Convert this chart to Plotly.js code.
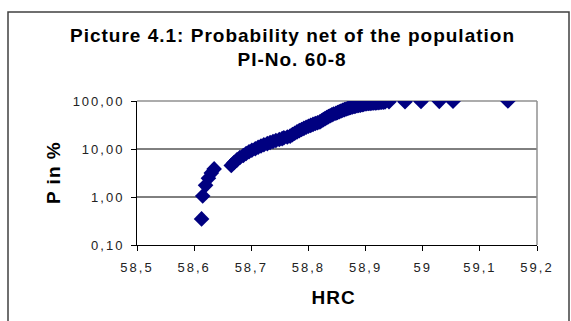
<!DOCTYPE html>
<html>
<head>
<meta charset="utf-8">
<script src="https://cdn.plot.ly/plotly-3.0.1.min.js"></script>
<style>
  html, body { margin: 0; padding: 0; background: #ffffff; }
  #chart { width: 571px; height: 321px; }
  #chart .xtick text, #chart .ytick text { letter-spacing: 2px; }
  #chart .annotation-text { letter-spacing: 1px; }
</style>
</head>
<body>
<div id="chart"></div>
<script>
const hrc = [
  58.613, 58.615, 58.620, 58.625, 58.630, 58.635,
  58.665, 58.670, 58.675, 58.680, 58.686, 58.691, 58.696,
  58.701, 58.707, 58.712, 58.717, 58.722, 58.728, 58.733, 58.738, 58.743, 58.749, 58.754, 58.757, 58.763, 58.768,
  58.772, 58.776, 58.780, 58.784, 58.788, 58.792, 58.796, 58.800, 58.804, 58.808, 58.812, 58.816, 58.820,
  58.823, 58.826, 58.829, 58.832, 58.835, 58.838, 58.841, 58.844, 58.848, 58.851, 58.854, 58.857, 58.860, 58.863, 58.866, 58.869, 58.872,
  58.874, 58.877, 58.880, 58.882, 58.885, 58.888, 58.891, 58.894, 58.896, 58.899,
  58.902, 58.905, 58.908, 58.911, 58.914, 58.917, 58.919, 58.922, 58.925, 58.928, 58.931, 58.934,
  58.941, 58.969, 58.997, 59.029, 59.053, 59.149
];
// Cumulative probability in %
const pct = [
  0.35, 1.05, 1.75, 2.45, 3.15, 3.85,
  4.55, 5.24, 5.94, 6.64, 7.34, 8.04, 8.74,
  9.44, 10.14, 10.84, 11.54, 12.24, 12.94, 13.64, 14.34, 15.03, 15.73, 16.43, 17.13, 17.83, 18.53,
  19.93, 21.33, 22.73, 24.13, 25.52, 26.92, 28.32, 29.72, 31.12, 32.52, 33.92, 35.31, 36.71,
  38.81, 40.91, 43.01, 45.10, 47.20, 49.30, 51.40, 53.50, 55.59, 57.69, 59.79, 61.89, 63.99, 66.08, 68.18, 70.28, 72.38,
  73.78, 75.17, 76.57, 77.97, 79.37, 80.77, 82.17, 83.57, 84.97, 86.36,
  87.76, 88.46, 89.16, 89.86, 90.56, 91.26, 91.96, 92.66, 93.36, 94.06, 94.76, 95.45,
  96.15, 96.85, 97.55, 98.25, 98.95, 99.65
];
const xTickVals = [58.5, 58.6, 58.7, 58.8, 58.9, 59.0, 59.1, 59.2];
const xTickText = ['58,5', '58,6', '58,7', '58,8', '58,9', '59', '59,1', '59,2'];
const yTickVals = [0.1, 1, 10, 100];
const yTickText = ['0,10', '1,00', '10,00', '100,00'];
const titleLine1 = 'Picture 4.1: Probability net of the population';
const titleLine2 = 'PI-No. 60-8';
const xTitle = 'HRC';
const yTitle = 'P in %';

const FONT = 'Liberation Sans, Arial, Helvetica, sans-serif';
const boldFont = { family: FONT, size: 19, color: '#000000', weight: 'bold' };

const trace = {
  type: 'scatter',
  mode: 'markers',
  x: hrc,
  y: pct,
  marker: { symbol: 'diamond', size: 12, color: '#000080', line: { width: 0 } },
  hoverinfo: 'skip'
};

const layout = {
  width: 571,
  height: 321,
  margin: { l: 137, r: 34, t: 101, b: 76, pad: 0 },
  paper_bgcolor: '#ffffff',
  plot_bgcolor: '#ffffff',
  showlegend: false,
  font: { family: FONT, color: '#000000' },
  xaxis: {
    range: [58.5, 59.2],
    tickvals: xTickVals,
    ticktext: xTickText,
    ticks: 'outside', ticklen: 5, tickcolor: '#000000', tickwidth: 1,
    ticklabelstandoff: 5,
    showline: true, linecolor: '#000000', linewidth: 1,
    showgrid: false, zeroline: false,
    tickfont: { family: FONT, size: 13, color: '#222222' }
  },
  yaxis: {
    type: 'log',
    range: [-1, 2],
    tickvals: yTickVals,
    ticktext: yTickText,
    ticks: 'outside', ticklen: 5, tickcolor: '#000000', tickwidth: 1,
    ticklabelstandoff: 4,
    showline: true, linecolor: '#000000', linewidth: 1,
    showgrid: false, zeroline: false,
    tickfont: { family: FONT, size: 13, color: '#222222' }
  },
  annotations: [
    { text: titleLine1, xref: 'paper', yref: 'paper', x: 0.3875, y: 1.458, xanchor: 'center', yanchor: 'middle', showarrow: false, font: boldFont },
    { text: titleLine2, xref: 'paper', yref: 'paper', x: 0.3875, y: 1.285, xanchor: 'center', yanchor: 'middle', showarrow: false, font: boldFont },
    { text: xTitle, xref: 'paper', yref: 'paper', x: 0.49, y: -0.368, xanchor: 'center', yanchor: 'middle', showarrow: false, font: boldFont },
    { text: yTitle, xref: 'paper', yref: 'paper', x: -0.21, y: 0.5, xanchor: 'center', yanchor: 'middle', textangle: -90, showarrow: false, font: boldFont }
  ],
  shapes: [
    { type: 'line', xref: 'paper', yref: 'y', x0: 0, x1: 1, y0: 1, y1: 1, line: { color: '#000000', width: 1 }, layer: 'below' },
    { type: 'line', xref: 'paper', yref: 'y', x0: 0, x1: 1, y0: 10, y1: 10, line: { color: '#000000', width: 1 }, layer: 'below' },
    { type: 'line', xref: 'paper', yref: 'paper', x0: 0, x1: 1, y0: 1, y1: 1, line: { color: '#909090', width: 1.5 }, layer: 'below' },
    { type: 'line', xref: 'paper', yref: 'paper', x0: 1, x1: 1, y0: 0, y1: 1, line: { color: '#909090', width: 1.5 }, layer: 'below' },
    { type: 'rect', xref: 'paper', yref: 'paper', x0: -0.3225, x1: 1.08, y0: -0.6, y1: 1.618, line: { color: '#404040', width: 1.5 }, fillcolor: 'rgba(0,0,0,0)' }
  ]
};

Plotly.newPlot('chart', [trace], layout, { displayModeBar: false, staticPlot: true });
</script>
</body>
</html>
